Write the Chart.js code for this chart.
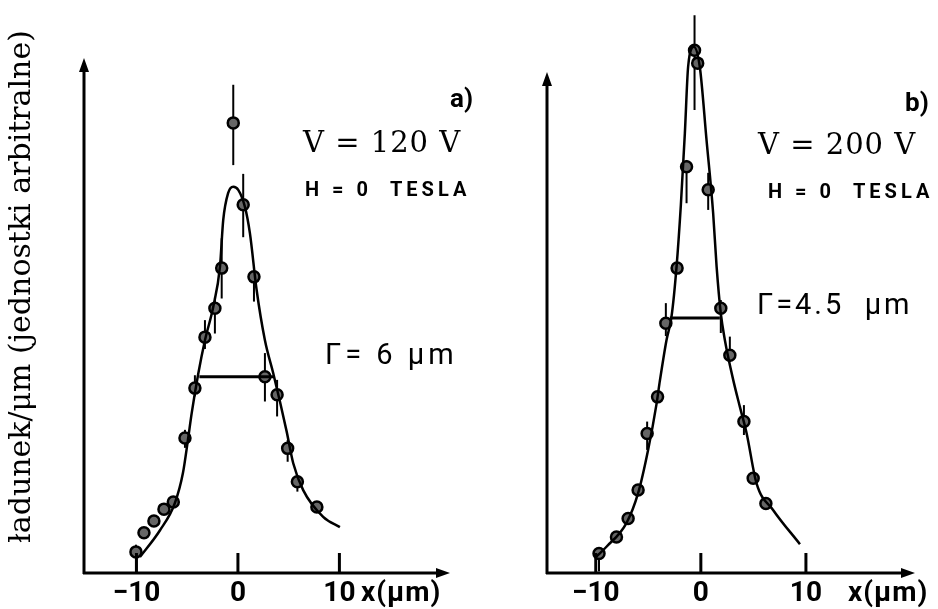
<!DOCTYPE html>
<html>
<head>
<meta charset="utf-8">
<script src="https://cdn.jsdelivr.net/npm/chart.js@4.4.0/dist/chart.umd.min.js"></script>
<style>
  html, body { margin: 0; padding: 0; background: #fff; }
  #wrap { position: relative; width: 938px; height: 609px; }
  #wrap canvas { position: absolute; left: 0; top: 0; }
</style>
</head>
<body>
<div id="wrap">
  <canvas id="chartA" width="938" height="609"></canvas>
  <canvas id="chartB" width="938" height="609"></canvas>
</div>
<script>
var xTicks = [-10, 0, 10];
var xTickLabels = ['\u221210', '0', '10'];
var yTitle = 'ładunek/μm (jednostki arbitralne)';

// panel a)  V = 120 V
var aPtsX = [-10.05, -9.26, -8.28, -7.29, -6.37, -5.22, -4.24, -3.25, -2.27, -1.6, -0.46, 0.52, 1.58, 2.66, 3.86, 4.9, 5.86, 7.78];
var aPtsY = [4.1, 7.8, 10.1, 12.4, 13.8, 26.2, 35.9, 45.8, 51.4, 59.2, 87.4, 71.5, 57.5, 38.1, 34.6, 24.2, 17.7, 12.8];
var aErrLo = [0.3, null, null, null, null, 24.3, 34.3, 43.5, 46.5, 53.3, 79.2, 65.2, 52.7, 33.3, 30.4, 21.6, 15.8, null];
var aErrHi = [5.5, null, null, null, null, 27.8, 38.4, 49.1, 53.5, 65.0, 94.8, 77.5, 59.5, 42.7, 37.5, 25.8, 19.0, null];
var aFitX = [-9.66, -7.68, -6.21, -5.42, -4.93, -4.56, -3.91, -3.25, -2.43, -1.77, -1.45, -0.96, -0.46, 0.03, 0.69, 1.18, 1.84, 2.66, 3.48, 4.14, 4.80, 5.45, 6.43, 8.40, 10.05];
var aFitY = [3.1, 8.3, 13.6, 19.4, 25.8, 31.0, 38.7, 45.2, 51.7, 59.5, 68.5, 73.8, 75.0, 74.4, 71.1, 66.0, 55.0, 45.2, 38.8, 33.3, 27.5, 21.3, 16.1, 10.9, 8.9];
var aFwhmX = [-3.8, 3.6];
var aFwhmY = [38.1, 38.1];

// panel b)  V = 200 V
var bPtsX = [-9.69, -8.03, -6.92, -5.97, -5.11, -4.12, -3.33, -2.26, -1.36, -0.6, -0.3, 0.70, 1.90, 2.76, 4.1, 4.98, 6.19];
var bPtsY = [3.8, 7.0, 10.6, 16.1, 27.1, 34.2, 48.5, 59.2, 78.9, 101.5, 99.0, 74.4, 51.4, 42.3, 29.4, 18.4, 13.5];
var bErrLo = [0.3, null, null, null, 23.9, null, 46.0, null, 71.8, 89.9, null, 70.5, 46.6, 41.0, 26.8, null, null];
var bErrHi = [5.0, null, null, null, 29.4, null, 52.4, null, 80.2, 108.3, null, 77.7, 53.0, 45.9, 32.6, null, null];
var bFitX = [-9.93, -8.98, -7.08, -5.97, -5.02, -4.22, -3.90, -3.27, -2.79, -2.31, -1.9, -1.52, -1.21, -0.67, -0.10, 0.54, 1.17, 1.50, 1.90, 2.29, 3.08, 3.71, 4.35, 5.30, 6.89, 9.43];
var bFitY = [3.2, 5.1, 9.7, 15.5, 23.9, 32.8, 37.3, 45.2, 49.8, 59.5, 71.5, 85.4, 98.3, 102.2, 98.3, 84.1, 69.9, 59.5, 50.4, 45.2, 37.5, 32.3, 27.2, 17.4, 12.2, 5.6];
var bFwhmX = [-2.95, 1.81];
var bFwhmY = [49.5, 49.5];

var yMax = 111.26;

function xy(xs, ys) {
  return xs.map(function (x, i) { return { x: x, y: ys[i] }; });
}

// axes with arrows, inner ticks, error bars and labels
var decor = {
  id: 'decor',
  beforeDatasetsDraw: function (chart, args, o) {
    var ctx = chart.ctx, sx = chart.scales.x, sy = chart.scales.y;
    ctx.save();
    ctx.strokeStyle = '#000';
    ctx.lineWidth = 2;
    o.errLo.forEach(function (lo, i) {
      if (lo === null) return;
      var px = sx.getPixelForValue(o.ptsX[i]);
      ctx.beginPath();
      ctx.moveTo(px, sy.getPixelForValue(lo));
      ctx.lineTo(px, sy.getPixelForValue(o.errHi[i]));
      ctx.stroke();
    });
    ctx.restore();
  },
  afterDraw: function (chart, args, o) {
    var ctx = chart.ctx, sx = chart.scales.x, sy = chart.scales.y;
    var x0 = sx.left, y0 = sy.bottom;
    var yTop = sy.getPixelForValue(o.yArrow), xEnd = sx.getPixelForValue(o.xArrow);
    ctx.save();
    ctx.strokeStyle = '#000';
    ctx.fillStyle = '#000';
    ctx.lineWidth = 3;
    ctx.beginPath();
    ctx.moveTo(x0, y0 + 1); ctx.lineTo(x0, yTop + 8);
    ctx.moveTo(x0 - 1, y0); ctx.lineTo(xEnd - 8, y0);
    ctx.stroke();
    ctx.beginPath();
    ctx.moveTo(x0, yTop); ctx.lineTo(x0 - 5, yTop + 14); ctx.lineTo(x0 + 5, yTop + 14); ctx.closePath();
    ctx.moveTo(xEnd, y0); ctx.lineTo(xEnd - 14, y0 - 5); ctx.lineTo(xEnd - 14, y0 + 5); ctx.closePath();
    ctx.fill();
    xTicks.forEach(function (v) {
      var px = sx.getPixelForValue(v);
      ctx.beginPath();
      ctx.moveTo(px, y0); ctx.lineTo(px, y0 - 20);
      ctx.stroke();
    });
    o.texts.forEach(function (t) {
      ctx.font = t.font;
      ctx.letterSpacing = t.ls || '0px';
      ctx.textAlign = 'left';
      ctx.textBaseline = 'middle';
      ctx.fillText(t.text, t.x, t.y);
    });
    ctx.restore();
  }
};

function makeChart(id, p) {
  return new Chart(document.getElementById(id), {
    type: 'scatter',
    data: {
      datasets: [
        {
          data: xy(p.fitX, p.fitY), showLine: true, pointRadius: 0,
          borderColor: '#000', borderWidth: 2.5, cubicInterpolationMode: 'monotone'
        },
        {
          data: xy(p.fwhmX, p.fwhmY), showLine: true, pointRadius: 0,
          borderColor: '#000', borderWidth: 3
        },
        {
          data: xy(p.ptsX, p.ptsY), showLine: false, pointRadius: 5.5,
          pointBorderWidth: 2.5, pointBorderColor: '#000', pointBackgroundColor: '#666'
        }
      ]
    },
    options: {
      responsive: false,
      animation: false,
      events: [],
      clip: false,
      layout: { autoPadding: false, padding: { left: 0, right: p.padRight, top: 0, bottom: 0 } },
      plugins: {
        legend: { display: false },
        tooltip: { enabled: false },
        decor: {
          ptsX: p.ptsX, errLo: p.errLo, errHi: p.errHi,
          xArrow: p.xArrow, yArrow: p.yArrow, texts: p.texts
        }
      },
      scales: {
        x: {
          type: 'linear', min: p.xMin, max: p.xMax,
          grid: { display: false, drawTicks: false },
          border: { display: false },
          afterBuildTicks: function (s) { s.ticks = xTicks.map(function (v) { return { value: v }; }); },
          afterFit: function (s) { s.height = 36; },
          ticks: {
            autoSkip: false, maxRotation: 0, padding: 4, color: '#000',
            font: { family: 'Roboto', size: 28, weight: 'bold' },
            callback: function (v) { return xTickLabels[xTicks.indexOf(v)]; }
          }
        },
        y: {
          type: 'linear', min: 0, max: yMax,
          grid: { display: false, drawTicks: false },
          border: { display: false },
          ticks: { display: false },
          afterFit: function (s) { s.width = p.yWidth; },
          title: {
            display: p.showTitle, text: yTitle, color: '#000',
            font: { family: 'DejaVu Serif', size: 30 },
            padding: { top: 4, bottom: 0 }
          }
        }
      }
    },
    plugins: [decor]
  });
}

var sans = 'Roboto';

makeChart('chartA', {
  ptsX: aPtsX, ptsY: aPtsY, errLo: aErrLo, errHi: aErrHi,
  fitX: aFitX, fitY: aFitY, fwhmX: aFwhmX, fwhmY: aFwhmY,
  xMin: -15.17, xMax: 20.9, xArrow: 20.9, yArrow: 100,
  yWidth: 84, padRight: 488, showTitle: true,
  texts: [
    { text: 'a)', x: 450, y: 100, font: 'bold 26px ' + sans },
    { text: 'V = 120 V', x: 303, y: 144, font: '29px DejaVu Serif', ls: '1px' },
    { text: 'H = 0  TESLA', x: 305, y: 191, font: 'bold 20px ' + sans, ls: '4px' },
    { text: 'Γ= 6 μm', x: 325, y: 357, font: '29px ' + sans, ls: '4px' },
    { text: 'x(μm)', x: 361, y: 594, font: 'bold 28px ' + sans, ls: '1px' }
  ]
});

makeChart('chartB', {
  ptsX: bPtsX, ptsY: bPtsY, errLo: bErrLo, errHi: bErrHi,
  fitX: bFitX, fitY: bFitY, fwhmX: bFwhmX, fwhmY: bFwhmY,
  xMin: -14.64, xMax: 20.38, xArrow: 20.38, yArrow: 97.3,
  yWidth: 547, padRight: 23, showTitle: false,
  texts: [
    { text: 'b)', x: 905, y: 104, font: 'bold 26px ' + sans },
    { text: 'V = 200 V', x: 758, y: 146, font: '29px DejaVu Serif', ls: '1px' },
    { text: 'H = 0  TESLA', x: 768, y: 193, font: 'bold 20px ' + sans, ls: '4px' },
    { text: 'Γ=4.5  μm', x: 757, y: 307, font: '29px ' + sans, ls: '3px' },
    { text: 'x(μm)', x: 848, y: 594, font: 'bold 28px ' + sans, ls: '1px' }
  ]
});
</script>
</body>
</html>
